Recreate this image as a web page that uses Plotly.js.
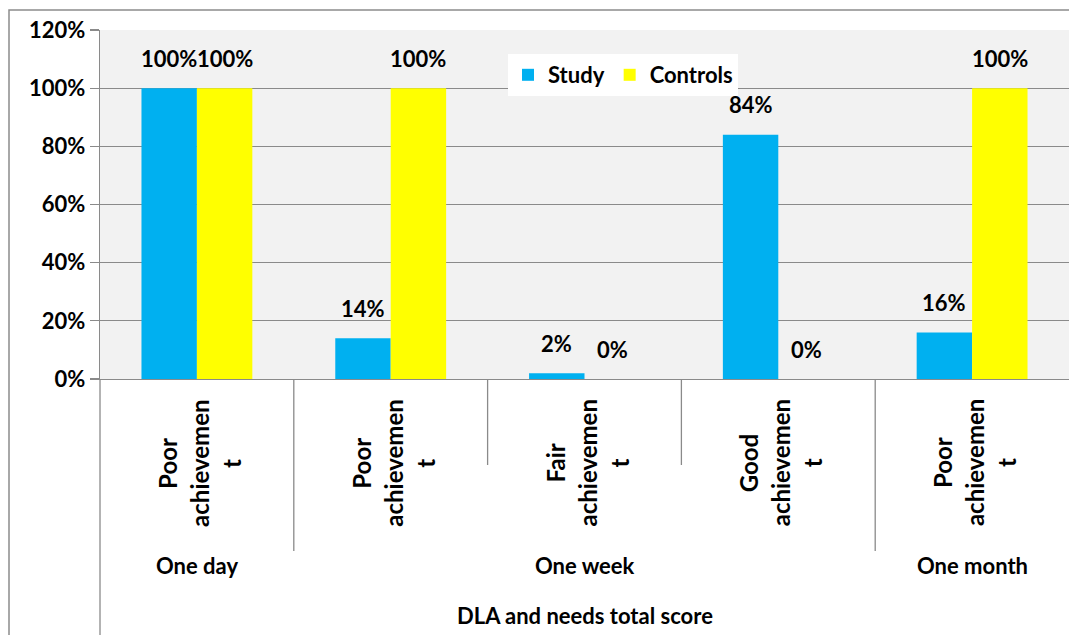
<!DOCTYPE html>
<html>
<head>
<meta charset="utf-8">
<script src="https://cdn.plot.ly/plotly-3.0.1.min.js"></script>
<style>html,body{margin:0;padding:0;background:#fff;}#chart{width:1069px;height:635px;}</style>
</head>
<body>
<div id="chart"></div>
<script>
// ---- data ----
const groups = ['One day', 'One week', 'One month'];
const groupSpans = [1, 3, 1];
const subcats = ['Poor<br>achievemen<br>t', 'Poor<br>achievemen<br>t', 'Fair<br>achievemen<br>t', 'Good<br>achievemen<br>t', 'Poor<br>achievemen<br>t'];
const study = [100, 14, 2, 84, 16];
const controls = [100, 100, 0, 0, 100];
const seriesNames = ['Study', 'Controls'];
const axisTitle = 'DLA and needs total score';
const yTicks = [0, 20, 40, 60, 80, 100, 120];

// ---- layout constants ----
const W = 1069, H = 635;
const M = {l: 100, r: 0, t: 30, b: 256};
const plotH = H - M.t - M.b;
const plotW = W - M.l - M.r;
const py = px => (H - M.b - px) / plotH;   // pixel y -> paper y
const pxx = px => (px - M.l) / plotW;      // pixel x -> paper x
const barW = 0.286;
const FONT = 'Lato, "Open Sans", sans-serif';
const gridC = '#8a8a8a';
const lineGap = 32;

const xs = subcats.map((_, i) => i);

const traces = [
  {type: 'bar', name: seriesNames[0], x: xs, y: study, marker: {color: '#00B0F0'}, hoverinfo: 'none'},
  {type: 'bar', name: seriesNames[1], x: xs, y: controls, marker: {color: '#FFFF00'}, hoverinfo: 'none'}
];

const annotations = [];
const lblFont = {family: FONT, size: 22, color: '#000', weight: 'bold'};
xs.forEach(i => {
  annotations.push({x: i - barW / 2, y: study[i], xref: 'x', yref: 'y', text: study[i] + '%', showarrow: false, yshift: 30, yanchor: 'middle', font: lblFont});
  annotations.push({x: i + barW / 2, y: controls[i], xref: 'x', yref: 'y', text: controls[i] + '%', showarrow: false, yshift: 30, yanchor: 'middle', font: lblFont});
  const lines = subcats[i].split('<br>');
  lines.forEach((ln, li) => {
    annotations.push({x: i, y: py(463), xref: 'x', yref: 'paper', xshift: 2 + (li - (lines.length - 1) / 2) * lineGap, text: ln, textangle: -90, showarrow: false, xanchor: 'center', yanchor: 'middle', font: {family: FONT, size: 24, color: '#000', weight: 'bold'}});
  });
});

const shapes = [];
let start = 0;
groups.forEach((g, gi) => {
  const end = start + groupSpans[gi];
  annotations.push({x: (start + end - 1) / 2, y: py(565), xref: 'x', yref: 'paper', text: g, showarrow: false, xanchor: 'center', yanchor: 'middle', font: {family: FONT, size: 22, color: '#000', weight: 'bold'}});
  for (let k = start + 1; k < end; k++) {
    shapes.push({type: 'line', xref: 'x', yref: 'paper', x0: k - 0.5, x1: k - 0.5, y0: 0, y1: py(465), line: {color: gridC, width: 1.3}});
  }
  if (gi < groups.length - 1) {
    shapes.push({type: 'line', xref: 'x', yref: 'paper', x0: end - 0.5, x1: end - 0.5, y0: 0, y1: py(551), line: {color: gridC, width: 1.3}});
  }
  start = end;
});
// y axis extension downward
shapes.push({type: 'line', xref: 'paper', yref: 'paper', x0: 0, x1: 0, y0: 0, y1: py(H + 10), line: {color: gridC, width: 1.3}});
// outer chart frame
shapes.push({type: 'rect', xref: 'paper', yref: 'paper', x0: pxx(9), x1: pxx(W + 20), y0: py(H + 20), y1: py(10), line: {color: '#8c8c8c', width: 1.5}, fillcolor: 'rgba(0,0,0,0)'});

annotations.push({x: 0.5, y: py(615), xref: 'paper', yref: 'paper', text: axisTitle, showarrow: false, xanchor: 'center', yanchor: 'middle', font: {family: FONT, size: 22, color: '#000', weight: 'bold'}});

const layout = {
  width: W, height: H, autosize: false,
  margin: M,
  paper_bgcolor: '#ffffff',
  plot_bgcolor: '#f2f2f2',
  barmode: 'group', bargap: 1 - 2 * barW, bargroupgap: 0,
  font: {family: FONT, color: '#000'},
  showlegend: true,
  legend: {orientation: 'h', x: pxx(508), y: py(54), xanchor: 'left', yanchor: 'top', bgcolor: '#ffffff', font: {family: FONT, size: 22, color: '#000', weight: 'bold'}, itemwidth: 30, tracegroupgap: 0},
  xaxis: {range: [-0.5, xs.length - 0.5], showticklabels: false, showgrid: false, zeroline: false, showline: true, linecolor: gridC, linewidth: 1.3, ticks: '', fixedrange: true},
  yaxis: {range: [0, 120], tickvals: yTicks, ticktext: yTicks.map(v => v + '%'), showgrid: true, gridcolor: gridC, gridwidth: 1.3, zeroline: false, showline: true, linecolor: gridC, linewidth: 1.3, ticks: 'outside', ticklen: 9, tickcolor: gridC, tickwidth: 1.3, tickfont: {family: FONT, size: 22, color: '#000', weight: 'bold'}, fixedrange: true},
  annotations: annotations,
  shapes: shapes
};

Plotly.newPlot('chart', traces, layout, {displayModeBar: false, staticPlot: true});
</script>
</body>
</html>
